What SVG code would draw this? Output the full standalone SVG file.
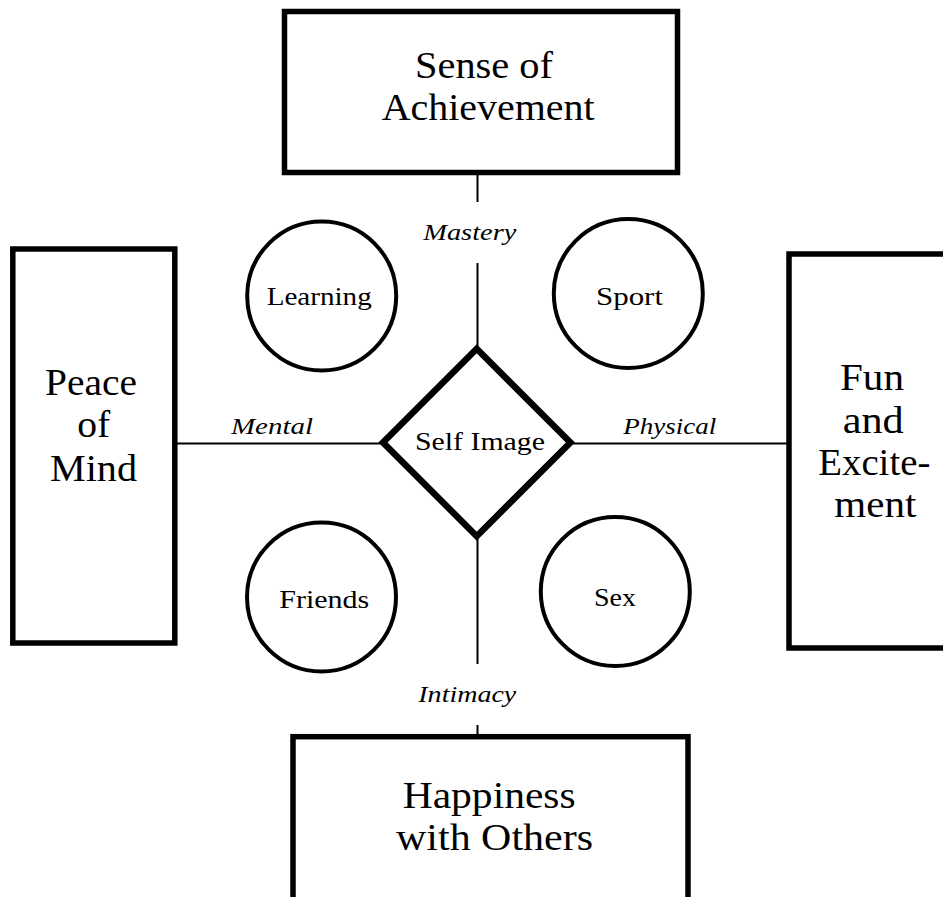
<svg xmlns="http://www.w3.org/2000/svg" width="943" height="897" viewBox="0 0 943 897">
<style>
.box{fill:#fff;stroke:#000;stroke-width:5.5}
.circ{fill:#fff;stroke:#000;stroke-width:4}
.dia{fill:#fff;stroke:#000;stroke-width:6.5;stroke-linejoin:miter}
.conn line{stroke:#000;stroke-width:2}
text{font-family:"Liberation Serif","Times New Roman",serif;fill:#000}
.big{font-size:37px}
.small{font-size:25px}
.it{font-size:24px;font-style:italic}
</style>
<rect width="943" height="897" fill="#fff"/>
<g id="connectors" class="conn">
<line x1="477.5" y1="175" x2="477.5" y2="202"/>
<line x1="477.5" y1="263" x2="477.5" y2="349"/>
<line x1="477.5" y1="537" x2="477.5" y2="664"/>
<line x1="477.5" y1="725" x2="477.5" y2="734"/>
<line x1="177" y1="443.5" x2="383" y2="443.5"/>
<line x1="571" y1="443.5" x2="787" y2="443.5"/>
<text class="it" x="423.3" y="240" textLength="93" lengthAdjust="spacingAndGlyphs">Mastery</text>
<text class="it" x="418.3" y="701.5" textLength="98" lengthAdjust="spacingAndGlyphs">Intimacy</text>
<text class="it" x="231" y="434" textLength="82" lengthAdjust="spacingAndGlyphs">Mental</text>
<text class="it" x="623.3" y="434" textLength="93" lengthAdjust="spacingAndGlyphs">Physical</text>
</g>
<g id="achievement">
<rect class="box" x="284.5" y="11.5" width="393" height="161"/>
<text class="big" x="415" y="78.3" textLength="138" lengthAdjust="spacingAndGlyphs">Sense of</text>
<text class="big" x="381.7" y="120" textLength="213" lengthAdjust="spacingAndGlyphs">Achievement</text>
</g>
<g id="peace">
<rect class="box" x="12.8" y="249" width="162" height="394"/>
<text class="big" x="45" y="395" textLength="92" lengthAdjust="spacingAndGlyphs">Peace</text>
<text class="big" x="77.3" y="436.7" textLength="33" lengthAdjust="spacingAndGlyphs">of</text>
<text class="big" x="50" y="480.7" textLength="87" lengthAdjust="spacingAndGlyphs">Mind</text>
</g>
<g id="fun">
<rect class="box" x="789" y="254" width="200" height="394"/>
<text class="big" x="840" y="390" textLength="64" lengthAdjust="spacingAndGlyphs">Fun</text>
<text class="big" x="842.7" y="432.7" textLength="61" lengthAdjust="spacingAndGlyphs">and</text>
<text class="big" x="818.3" y="475" textLength="112" lengthAdjust="spacingAndGlyphs">Excite-</text>
<text class="big" x="834.3" y="517.3" textLength="82" lengthAdjust="spacingAndGlyphs">ment</text>
</g>
<g id="happiness">
<rect class="box" x="293" y="736.7" width="395" height="200"/>
<text class="big" x="402.7" y="808.3" textLength="173" lengthAdjust="spacingAndGlyphs">Happiness</text>
<text class="big" x="396" y="850" textLength="197" lengthAdjust="spacingAndGlyphs">with Others</text>
</g>
<g id="learning">
<circle class="circ" cx="321.7" cy="296" r="74.5"/>
<text class="small" x="266.7" y="305" textLength="105" lengthAdjust="spacingAndGlyphs">Learning</text>
</g>
<g id="sport">
<circle class="circ" cx="628.3" cy="293.5" r="74.5"/>
<text class="small" x="596" y="305" textLength="67" lengthAdjust="spacingAndGlyphs">Sport</text>
</g>
<g id="friends">
<circle class="circ" cx="321.5" cy="597" r="74.5"/>
<text class="small" x="279.3" y="608.3" textLength="90" lengthAdjust="spacingAndGlyphs">Friends</text>
</g>
<g id="sex">
<circle class="circ" cx="615.3" cy="591.5" r="74.5"/>
<text class="small" x="594" y="606" textLength="42" lengthAdjust="spacingAndGlyphs">Sex</text>
</g>
<g id="selfimage">
<polygon class="dia" points="476.7,348.8 570.4,442.5 476.7,536.2 383,442.5"/>
<text class="small" x="415" y="450" textLength="130" lengthAdjust="spacingAndGlyphs">Self Image</text>
</g>
</svg>
